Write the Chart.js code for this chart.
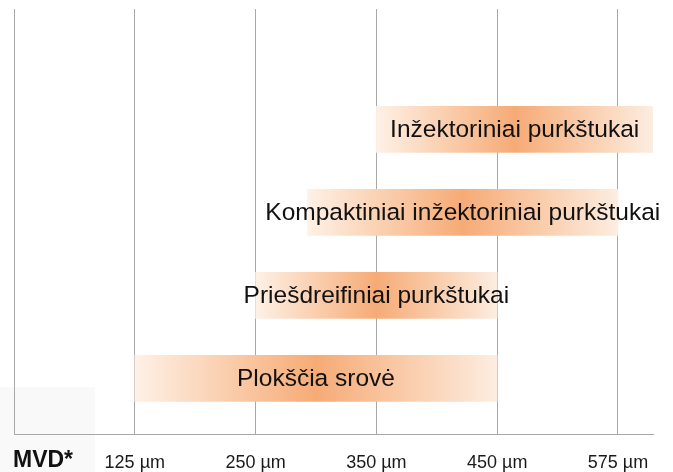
<!DOCTYPE html>
<html>
<head>
<meta charset="utf-8">
<script src="https://cdn.jsdelivr.net/npm/chart.js@4/dist/chart.umd.min.js"></script>
<style>
  html, body { margin: 0; padding: 0; background: #fff; }
  #wrap { width: 673px; height: 472px; position: relative; }
</style>
</head>
<body>
<div id="wrap"><canvas id="mvd-chart"></canvas></div>
<script>
// nozzle types, top to bottom
var rowNames = ['Inžektoriniai purkštukai', 'Kompaktiniai inžektoriniai purkštukai', 'Priešdreifiniai purkštukai', 'Plokščia srovė'];
var rowPos = [1, 2, 3, 4];
// droplet range, in tick steps (0 = axis start, 1 = 125 µm ... 5 = 575 µm)
var rowStart = [3, 2.43, 2, 1];
var rowEnd = [5.29, 5, 4, 4];
var tickLabels = ['', '125 µm', '250 µm', '350 µm', '450 µm', '575 µm'];
var axisName = 'MVD*';

var gridGray = '#a8a8a8';
var labelFont = '"Liberation Sans", Arial, sans-serif';

function barGradient(context) {
    var chart = context.chart;
    if (!chart.chartArea) return '#f8c49e';
    var i = context.dataIndex;
    var xs = chart.scales.x;
    var x0 = xs.getPixelForValue(rowStart[i]);
    var x1 = xs.getPixelForValue(rowEnd[i]);
    var g = chart.ctx.createLinearGradient(x0, 0, x1, 0);
    g.addColorStop(0, '#fef1e6');
    g.addColorStop(0.5, '#f6ab76');
    g.addColorStop(1, '#fdede0');
    return g;
}

var textPlugin = {
    id: 'textPlugin',
    beforeDraw: function(chart) {
        var c = chart.ctx;
        c.save();
        c.fillStyle = '#f9f9f9';
        c.fillRect(0, 387, 95, 85);
        c.restore();
    },
    afterDraw: function(chart) {
        var c = chart.ctx;
        var xs = chart.scales.x, ys = chart.scales.y;
        c.save();
        c.fillStyle = '#111';
        c.font = '24.5px ' + labelFont;
        c.textAlign = 'center';
        c.textBaseline = 'alphabetic';
        rowNames.forEach(function(name, i) {
            var cx = (xs.getPixelForValue(rowStart[i]) + xs.getPixelForValue(rowEnd[i])) / 2;
            c.fillText(name, cx, ys.getPixelForValue(rowPos[i]) + 8);
        });
        c.font = 'bold 23px ' + labelFont;
        c.textAlign = 'left';
        c.fillText(axisName, chart.chartArea.left - 1, xs.top + 33);
        c.restore();
    }
};

var data = {
    datasets: [{
        data: rowNames.map(function(n, i) { return {x: [rowStart[i], rowEnd[i]], y: rowPos[i]}; }),
        backgroundColor: barGradient,
        borderWidth: 0,
        barThickness: 46
    }]
};

new Chart(document.getElementById('mvd-chart'), {
    type: 'bar',
    data: data,
    plugins: [textPlugin],
    options: {
        indexAxis: 'y',
        responsive: true,
        maintainAspectRatio: false,
        animation: false,
        layout: { padding: { left: 14, right: 20, top: 9, bottom: 0 } },
        plugins: { legend: { display: false }, tooltip: { enabled: false } },
        scales: {
            x: {
                type: 'linear',
                min: 0,
                max: 5.29,
                z: 1,
                afterBuildTicks: function(scale) {
                    scale.ticks = tickLabels.map(function(t, i) { return {value: i}; });
                },
                afterFit: function(scale) {
                    scale.height = 38;
                    scale.paddingLeft = 0;
                    scale.paddingRight = 0;
                },
                grid: { color: gridGray, lineWidth: 1, drawTicks: false },
                border: { color: gridGray, width: 1 },
                ticks: {
                    padding: 18,
                    color: '#1a1a1a',
                    font: { family: labelFont, size: 18 },
                    maxRotation: 0,
                    autoSkip: false,
                    callback: function(v, i) { return tickLabels[i]; }
                }
            },
            y: {
                type: 'linear',
                display: false,
                offset: false,
                reverse: true,
                min: -0.45,
                max: 4.67
            }
        }
    }
});
</script>
</body>
</html>
